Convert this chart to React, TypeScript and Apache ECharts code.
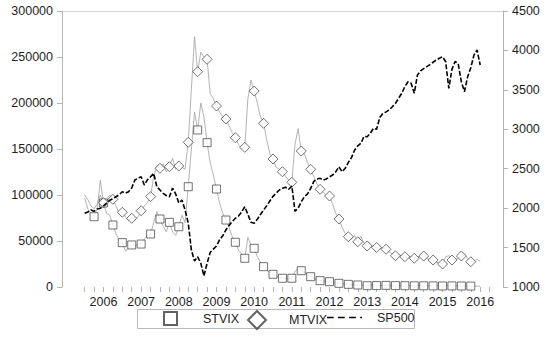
import React, { useEffect, useRef } from "react";
import * as echarts from "echarts";

// Monthly observations, first month = July 2005
const START_YEAR = 2005.5;

const STVIX: number[] = [
  97000, 85000, 80000, 76400, 85000, 116000, 91300, 80000, 78000, 67400,
  58000, 50000, 48200, 39000, 42000, 45700, 44000, 47000, 46700, 52000,
  56000, 57600, 70000, 82000, 73900, 66000, 60000, 70300, 60000, 56000,
  65500, 78000, 70000, 109000, 150000, 190000, 170700, 200000, 185000, 156900,
  135000, 122000, 106500, 91000, 80000, 72800, 65000, 55000, 48600, 40000,
  36000, 31200, 54000, 45000, 42100, 33000, 27000, 22100, 18000, 16000,
  13800, 12000, 10500, 9500, 9000, 9000, 9500, 17000, 20000, 17700,
  16000, 13000, 11200, 9000, 8000, 6900, 6500, 6000, 5800, 5000,
  4500, 4000, 3500, 3200, 2900, 2600, 2400, 2200, 2000, 1800,
  1400, 1500, 1600, 1500, 1600, 1700, 1800, 1700, 1600, 1500,
  1500, 1400, 1400, 1500, 1500, 1300, 1400, 1500, 1300, 1300,
  1200, 1200, 1300, 1200, 1100, 1400, 1500, 1200, 1200, 1100,
  1100, 1300, 1200, 1000, 1100, 1000, 1000,
];

const MTVIX: number[] = [
  100000, 95000, 88000, 85000, 90000, 100000, 91600, 96000, 100000, 95300,
  88000, 80000, 81200, 76000, 72000, 74700, 73000, 76000, 82900, 88000,
  92000, 98200, 120000, 132000, 129000, 134000, 125000, 130800, 140000, 128000,
  131500, 130000, 128000, 157300, 215000, 272000, 234000, 255000, 250000, 247500,
  210000, 205000, 196700, 190000, 185000, 182600, 175000, 168000, 162300, 155000,
  150000, 151800, 205000, 225000, 213000, 200000, 185000, 177900, 160000, 145000,
  139100, 130000, 128000, 125300, 120000, 116000, 113800, 155000, 172000, 147800,
  145000, 135000, 127900, 120000, 112000, 106200, 103000, 100000, 98900, 90000,
  80000, 73900, 65000, 58000, 54700, 52000, 56000, 49200, 55000, 47000,
  44600, 45000, 44000, 43000, 44000, 42000, 41000, 38000, 36000, 34000,
  35000, 34000, 32900, 32000, 33000, 31200, 32000, 35000, 33700, 31000,
  30000, 29300, 27000, 26000, 25000, 33000, 34000, 29300, 30000, 31000,
  33700, 36000, 31000, 27500, 28000, 30000, 28000,
];

const SP500: number[] = [
  1935, 1950, 1976, 1960, 1990, 1998, 2030, 2065, 2100, 2120,
  2145, 2170, 2208, 2190, 2208, 2255, 2357, 2380, 2398, 2293,
  2360, 2398, 2441, 2272, 2230, 2188, 2160, 2145, 2255, 2180,
  2065, 2103, 1976, 1811, 1469, 1330, 1384, 1300, 1140, 1300,
  1440, 1480, 1520, 1600, 1650, 1723, 1780, 1830, 1871, 1900,
  1950, 2018, 1920, 1820, 1808, 1860, 1920, 1976, 2030, 2090,
  2150, 2190, 2230, 2252, 2265, 2240, 2280, 1960, 2000, 2082,
  2145, 2180, 2250, 2340, 2370, 2378, 2357, 2370, 2398, 2420,
  2462, 2525, 2462, 2505, 2580, 2640, 2737, 2790, 2822, 2910,
  2906, 2950, 3012, 3000, 3150, 3200, 3220, 3244, 3286, 3329,
  3393, 3456, 3540, 3603, 3583, 3456, 3688, 3740, 3770, 3794,
  3820, 3850, 3879, 3900, 3921, 3857, 3519, 3760, 3860, 3830,
  3600, 3477, 3667, 3780, 3940, 4005, 3815,
];

const YEAR_LABELS: number[] = [2006, 2007, 2008, 2009, 2010, 2011, 2012, 2013, 2014, 2015, 2016];
const LEFT_TICKS = { min: 0, max: 300000, interval: 50000 };
const RIGHT_TICKS = { min: 1000, max: 4500, interval: 500 };

const FONT = "'Liberation Sans', Arial, Helvetica, sans-serif";

const monthYear = (i: number) => START_YEAR + i / 12;
const toPairs = (arr: number[]) => arr.map((v, i) => [monthYear(i), v]);
const quarterMarks = (arr: number[], firstIdx: number, lastIdx: number) =>
  arr
    .map((v, i) => [monthYear(i), v, i] as [number, number, number])
    .filter(([, , i]) => i >= firstIdx && i <= lastIdx && (i - firstIdx) % 3 === 0)
    .map(([t, v]) => [t, v]);

const quarterTicks: number[] = [];
for (let q = 2005.5; q <= 2016.26; q += 0.25) quarterTicks.push(Math.round(q * 100) / 100);

const DASH_ICON =
  "path://M0,0h6v1.2h-6z M10,0h6v1.2h-6z M20,0h6v1.2h-6z M30,0h1.6v1.2h-1.6z";

export default function App() {
  const ref = useRef<HTMLDivElement>(null);
  useEffect(() => {
    if (!ref.current) return;
    const chart = echarts.init(ref.current, undefined, { renderer: "svg" });
    const axisGray = "#b4b4b4";
    const labelStyle = { color: "#1e1e1e", fontSize: 12.5, fontFamily: FONT };
    const plain = (v: number) => String(Math.round(v));
    chart.setOption({
      animation: false,
      backgroundColor: "#ffffff",
      textStyle: { fontFamily: FONT },
      grid: { left: 62, right: 46, top: 11, bottom: 51, containLabel: false },
      xAxis: [
        {
          type: "value",
          min: 2004.899,
          max: 2016.605,
          position: "bottom",
          axisLine: { show: false },
          axisTick: {
            show: true,
            length: 5,
            customValues: quarterTicks,
            lineStyle: { color: axisGray, width: 1 },
          },
          axisLabel: {
            show: true,
            customValues: YEAR_LABELS,
            formatter: plain,
            margin: 8,
            ...labelStyle,
          },
          splitLine: { show: false },
        },
        {
          type: "value",
          min: 2004.899,
          max: 2016.605,
          position: "top",
          axisLine: { show: true, lineStyle: { color: "#d2d2d2", width: 1 } },
          axisTick: { show: false },
          axisLabel: { show: false },
          splitLine: { show: false },
        },
      ],
      yAxis: [
        {
          type: "value",
          position: "left",
          ...LEFT_TICKS,
          axisLine: { show: true, lineStyle: { color: axisGray, width: 1 } },
          axisTick: { show: true, length: 5, lineStyle: { color: axisGray } },
          axisLabel: { margin: 9, formatter: plain, ...labelStyle },
          splitLine: { show: false },
        },
        {
          type: "value",
          position: "right",
          ...RIGHT_TICKS,
          axisLine: { show: true, lineStyle: { color: axisGray, width: 1 } },
          axisTick: { show: true, length: 5, lineStyle: { color: axisGray } },
          axisLabel: { margin: 9, formatter: plain, ...labelStyle },
          splitLine: { show: false },
        },
      ],
      legend: [
        {
          data: [{ name: "STVIX", icon: "rect" }],
          left: 163,
          top: 311,
          padding: 0,
          itemWidth: 13,
          itemHeight: 13,
          textStyle: { ...labelStyle, padding: [0, 0, 0, 21] },
          selectedMode: false,
        },
        {
          data: [{ name: "MTVIX", icon: "diamond" }],
          left: 247,
          top: 310,
          padding: 0,
          itemWidth: 18,
          itemHeight: 18,
          textStyle: { ...labelStyle, padding: [0, 0, 0, 18] },
          selectedMode: false,
        },
        {
          data: [
            {
              name: "SP500",
              icon: DASH_ICON,
              itemStyle: { color: "#000000", borderWidth: 0 },
            },
          ],
          left: 327,
          top: 311,
          padding: 0,
          itemWidth: 35,
          itemHeight: 14,
          textStyle: { ...labelStyle, padding: [0, 0, 0, 10] },
          selectedMode: false,
        },
      ],
      graphic: [
        {
          type: "rect",
          shape: { x: 137.5, y: 309.5, width: 277, height: 19 },
          style: { fill: "none", stroke: "#b8b8b8", lineWidth: 1 },
          silent: true,
        },
      ],
      series: [
        {
          name: "STVIX line",
          type: "line",
          yAxisIndex: 0,
          data: toPairs(STVIX),
          symbol: "none",
          lineStyle: { color: "#a0a0a0", width: 0.8 },
          z: 1,
        },
        {
          name: "MTVIX line",
          type: "line",
          yAxisIndex: 0,
          data: toPairs(MTVIX),
          symbol: "none",
          lineStyle: { color: "#a0a0a0", width: 0.8 },
          z: 1,
        },
        {
          name: "STVIX",
          type: "scatter",
          yAxisIndex: 0,
          data: quarterMarks(STVIX, 3, 123),
          symbol: "rect",
          symbolSize: 8,
          itemStyle: { color: "#ffffff", borderColor: "#3c3c3c", borderWidth: 0.9 },
          z: 3,
        },
        {
          name: "MTVIX",
          type: "scatter",
          yAxisIndex: 0,
          data: quarterMarks(MTVIX, 6, 123),
          symbol: "diamond",
          symbolSize: 10,
          itemStyle: { color: "#ffffff", borderColor: "#3c3c3c", borderWidth: 0.9 },
          z: 3,
        },
        {
          name: "SP500",
          type: "line",
          yAxisIndex: 1,
          data: toPairs(SP500),
          symbol: "none",
          lineStyle: { color: "#000000", width: 1.6, type: [5, 2] },
          z: 4,
        },
      ],
    });
    return () => chart.dispose();
  }, []);
  return (
    <div
      ref={ref}
      style={{ position: "fixed", left: 0, top: 0, width: 549, height: 338, background: "#fff" }}
    />
  );
}
